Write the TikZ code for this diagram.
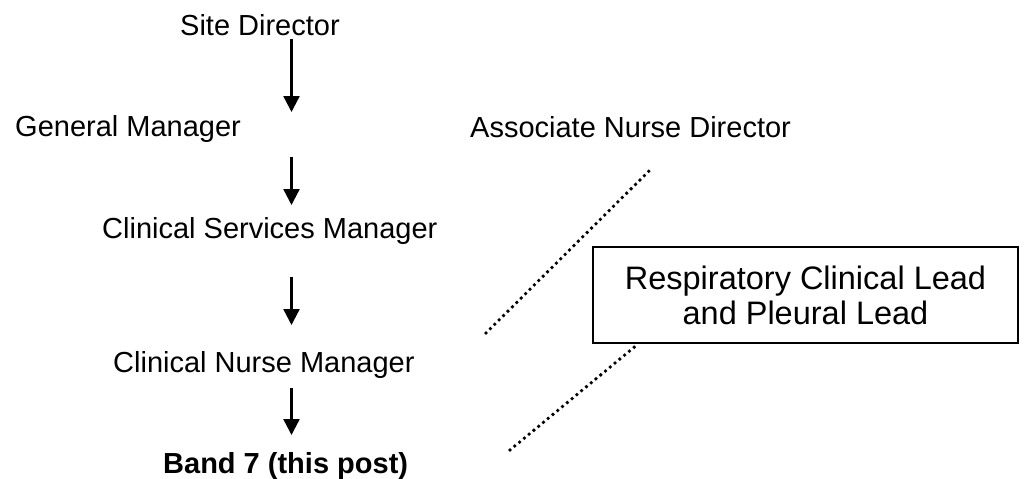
\documentclass[tikz,border=0pt]{standalone}
\usepackage{fontspec}
\setmainfont{Liberation Sans}
\usetikzlibrary{arrows.meta}
\begin{document}
\begin{tikzpicture}[x=1pt,y=-1pt,
  lbl/.style={anchor=base west,inner sep=0pt,font=\fontsize{29}{34}\selectfont},
  arr/.style={line width=2.4pt,-{Triangle[length=16pt,width=16pt]}},
  dots/.style={line width=3.8pt,line cap=round,dash pattern=on 0pt off 6.2pt},
  leadbox/.style={draw,line width=2pt,inner sep=0pt,minimum width=425pt,minimum height=96pt,align=center,font=\fontsize{32.5}{35}\selectfont}]
\useasboundingbox (0,0) rectangle (1028,479);
\node[lbl] (sd) at (180,35) {Site Director};
\node[lbl] (gm) at (15,136) {General Manager};
\node[lbl] (and) at (470,137) {Associate Nurse Director};
\node[lbl] (csm) at (102,238) {Clinical Services Manager};
\node[lbl] (cnm) at (113,372) {Clinical Nurse Manager};
\node[lbl,font=\fontsize{29}{34}\selectfont\bfseries] (b7) at (163,473) {Band 7 (this post)};
\node[leadbox] (rcl) at (805.5,295) {Respiratory Clinical Lead\\and Pleural Lead};
\coordinate (a1s) at (291.5,39); \coordinate (a1e) at (291.5,112);
\coordinate (a2s) at (291.5,157); \coordinate (a2e) at (291.5,205);
\coordinate (a3s) at (291.5,277); \coordinate (a3e) at (291.5,325);
\coordinate (a4s) at (291.5,388); \coordinate (a4e) at (291.5,435);
\draw[arr] (a1s) -- (a1e);
\draw[arr] (a2s) -- (a2e);
\draw[arr] (a3s) -- (a3e);
\draw[arr] (a4s) -- (a4e);
\coordinate (d1s) at (486,333); \coordinate (d1e) at (651,169);
\coordinate (d2s) at (510,450); \coordinate (d2e) at (638,344);
\draw[dots] (d1s) -- (d1e);
\draw[dots] (d2s) -- (d2e);
\end{tikzpicture}
\end{document}
